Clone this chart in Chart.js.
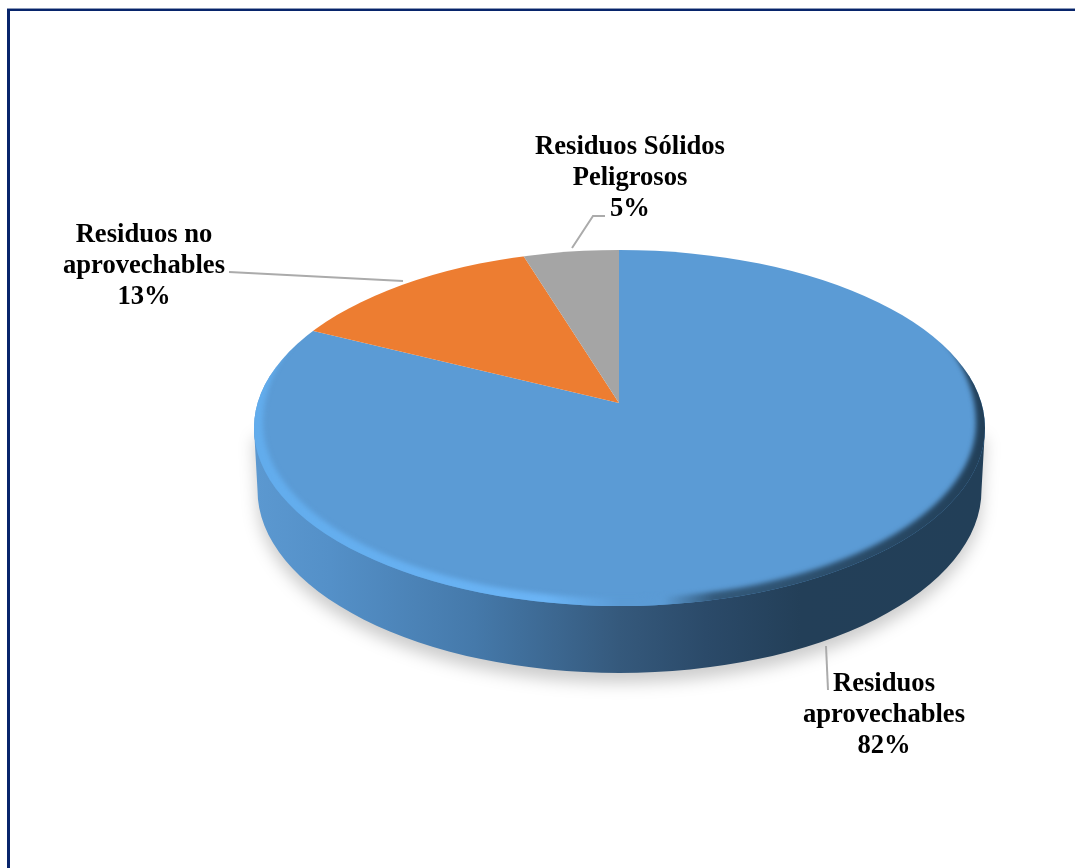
<!DOCTYPE html>
<html lang="es">
<head>
<meta charset="utf-8">
<title>Residuos</title>
<style>
  html, body { margin: 0; padding: 0; background: #fff; }
  #frame { position: absolute; left: 7px; top: 9px; width: 1068px; height: 859px; box-sizing: border-box;
           border-left: 3px solid #07246b; border-top: 2px solid #07246b; box-shadow: 0 -1px 0 #8c9ab8; }
  canvas { position: absolute; left: 0; top: 0; }
</style>
</head>
<body>
<div id="frame"></div>
<canvas id="myPieChart" width="1075" height="868"></canvas>
<script src="https://cdn.jsdelivr.net/npm/chart.js@4"></script>
<script>
const categories = ['Residuos aprovechables', 'Residuos no aprovechables', 'Residuos Sólidos Peligrosos'];
const percentages = [82, 13, 5];
const sliceColors = ['#5B9BD5', '#ED7D31', '#A5A5A5'];
// label text broken into lines, the value line is added when drawing
const labelLines = [['Residuos', 'aprovechables'], ['Residuos no', 'aprovechables'], ['Residuos Sólidos', 'Peligrosos']];

// top face and bottom edge of the disc, apex is off centre to fake perspective
const apex = { x: 619, y: 403 };
const face = { x: 619.5, y: 428, rx: 365.5, ry: 178 };
const base = { x: 619.5, y: 490, rx: 362, ry: 183 };
const tilt = 0.5, grow = 1.1;

const labelPos = [
	{ x: 884, y: 691 },
	{ x: 144, y: 242 },
	{ x: 630, y: 154 }
];
const leaders = [
	[[826, 646], [828, 690]],
	[[229, 272], [403, 281]],
	[[572, 248], [593, 216], [605, 216]]
];

const disc3d = {
	id: 'disc3d',
	beforeDatasetsDraw(chart) {
		const ctx = chart.ctx;
		// side wall with its drop shadow
		ctx.save();
		const wall = ctx.createLinearGradient(base.x - base.rx, 0, base.x + base.rx, 0);
		wall.addColorStop(0, '#5B98D0');
		wall.addColorStop(0.1, '#5490C8');
		wall.addColorStop(0.3, '#4579AA');
		wall.addColorStop(0.5, '#35597C');
		wall.addColorStop(0.62, '#2B4A69');
		wall.addColorStop(0.75, '#233F58');
		wall.addColorStop(1, '#223F58');
		ctx.beginPath();
		ctx.moveTo(face.x - face.rx, face.y);
		ctx.lineTo(face.x + face.rx, face.y);
		ctx.lineTo(base.x + base.rx, base.y);
		ctx.ellipse(base.x, base.y, base.rx, base.ry, 0, 0, Math.PI);
		ctx.closePath();
		ctx.shadowColor = 'rgba(0,0,0,0.2)';
		ctx.shadowBlur = 16;
		ctx.shadowOffsetY = 10;
		ctx.fillStyle = wall;
		ctx.fill();
		ctx.restore();

		// slices get squashed and cut to the top face
		ctx.save();
		ctx.beginPath();
		ctx.ellipse(face.x, face.y, face.rx, face.ry, 0, 0, Math.PI * 2);
		ctx.clip();
		ctx.translate(apex.x, apex.y);
		ctx.scale(grow, grow * tilt);
		ctx.translate(-apex.x, -apex.y);
	},
	afterDatasetsDraw(chart) {
		const ctx = chart.ctx;
		ctx.restore();

		// bevel round the lower edge of the top face, tapers out on the upper half
		ctx.save();
		ctx.beginPath();
		ctx.ellipse(face.x, face.y, face.rx, face.ry, 0, 0, Math.PI * 2);
		ctx.clip();
		const rim = ctx.createLinearGradient(face.x - face.rx, 0, face.x + face.rx, 0);
		rim.addColorStop(0, '#62ACEC');
		rim.addColorStop(0.4, '#6BB4F5');
		rim.addColorStop(0.5, '#5B9BD5');
		rim.addColorStop(0.56, '#5B9BD5');
		rim.addColorStop(0.63, '#33597A');
		rim.addColorStop(1, '#223F58');
		ctx.filter = 'blur(2.5px)';
		ctx.beginPath();
		ctx.ellipse(face.x, face.y, face.rx + 12, face.ry + 12, 0, 0, Math.PI * 2);
		ctx.moveTo(face.x + face.rx - 9, face.y - 5);
		ctx.ellipse(face.x, face.y - 5, face.rx - 9, face.ry - 3, 0, 0, Math.PI);
		ctx.ellipse(face.x, face.y - 5, face.rx - 9, face.ry + 22, 0, Math.PI, Math.PI * 2);
		ctx.closePath();
		ctx.fillStyle = rim;
		ctx.fill('evenodd');
		ctx.restore();
	},
	afterDraw(chart) {
		const ctx = chart.ctx;
		ctx.save();
		ctx.strokeStyle = '#ABABAB';
		ctx.lineWidth = 2;
		leaders.forEach(pts => {
			ctx.beginPath();
			pts.forEach((p, i) => i ? ctx.lineTo(p[0], p[1]) : ctx.moveTo(p[0], p[1]));
			ctx.stroke();
		});
		ctx.fillStyle = '#000';
		ctx.font = 'bold 26.6px "Liberation Serif"';
		ctx.textAlign = 'center';
		labelLines.forEach((lines, i) => {
			const rows = lines.concat(percentages[i] + '%');
			rows.forEach((txt, r) => ctx.fillText(txt, labelPos[i].x, labelPos[i].y + r * 31));
		});
		ctx.restore();
	}
};

new Chart(document.getElementById('myPieChart').getContext('2d'), {
	type: 'pie',
	data: {
		labels: categories,
		datasets: [{
			data: percentages,
			backgroundColor: sliceColors,
			borderWidth: 0
		}]
	},
	options: {
		responsive: false,
		animation: false,
		layout: { padding: { left: 163, right: 0, top: 0, bottom: 62 } },
		plugins: { legend: { display: false }, tooltip: { enabled: false } }
	},
	plugins: [disc3d]
});
</script>
</body>
</html>
